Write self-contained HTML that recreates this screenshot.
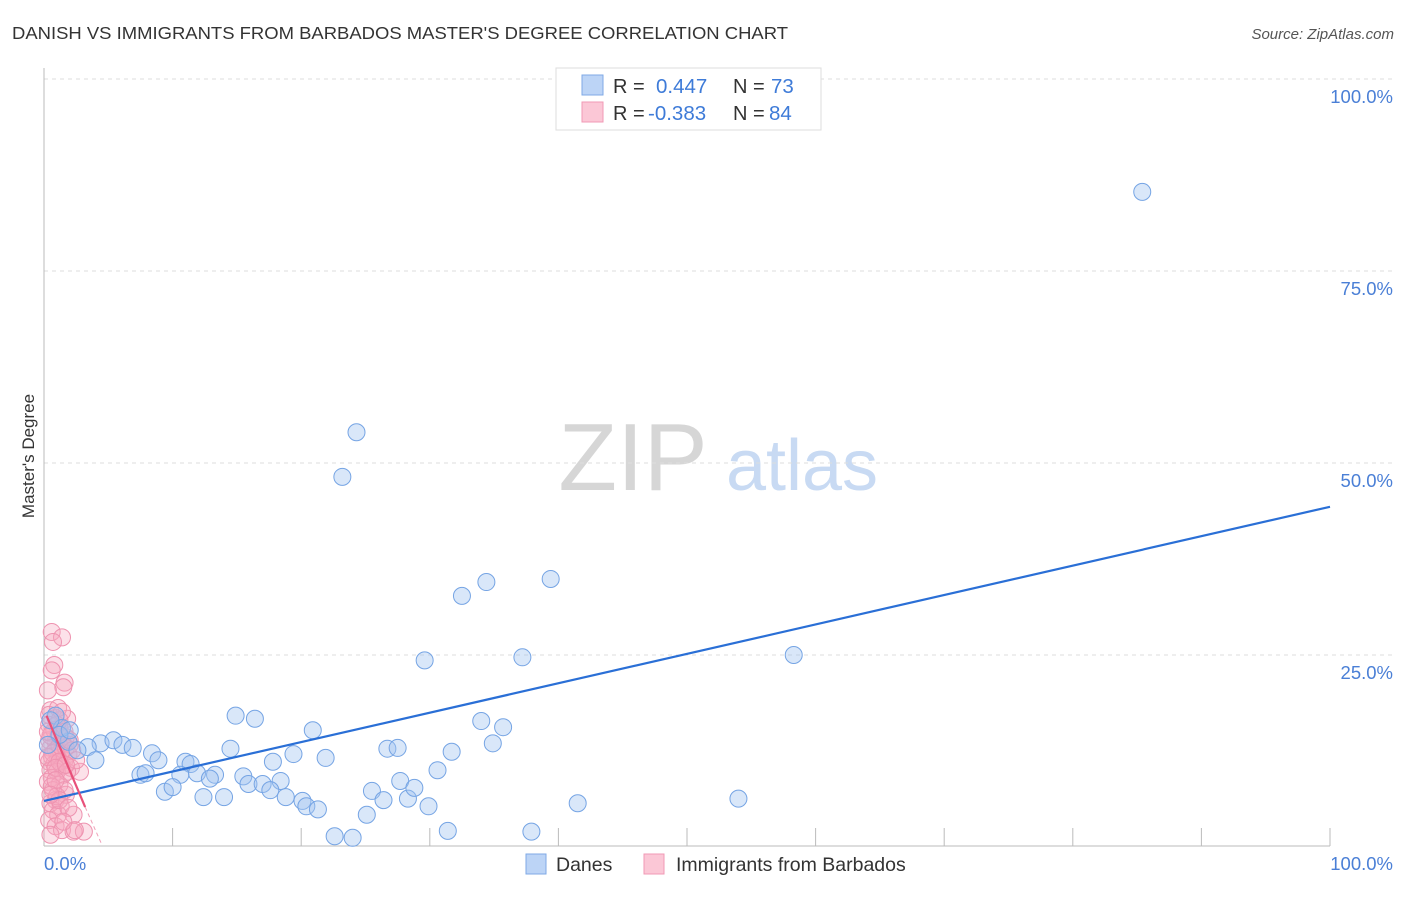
<!DOCTYPE html>
<html><head><meta charset="utf-8"><style>
body{margin:0;background:#fff;font-family:"Liberation Sans",sans-serif}
svg text{font-family:"Liberation Sans",sans-serif}
</style></head><body>
<svg id="chart" width="1406" height="892" viewBox="0 0 1406 892" xmlns="http://www.w3.org/2000/svg">
<text x="12" y="39" font-size="17.5" fill="#333" textLength="776" lengthAdjust="spacingAndGlyphs">DANISH VS IMMIGRANTS FROM BARBADOS MASTER'S DEGREE CORRELATION CHART</text>
<text x="1394" y="39" font-size="15" fill="#555" font-style="italic" text-anchor="end">Source: ZipAtlas.com</text>
<g>
<text x="633" y="490" font-size="96" fill="#d6d6d6" font-family="Liberation Serif,serif" text-anchor="middle">ZIP</text>
<text x="802" y="490" font-size="72" fill="#c8daf3" text-anchor="middle">atlas</text>
</g>
<g id="grid"></g>
<g id="axes"></g>
<g id="pink"></g>
<g id="blue"></g>
<g id="lines"></g>
<text transform="translate(34,456) rotate(-90)" font-size="17" fill="#333" text-anchor="middle">Master's Degree</text>
<g>
<rect x="556" y="68" width="265" height="62" fill="#fff" stroke="#ddd"/>
<rect x="582" y="75" width="21" height="20" fill="#bcd4f6" stroke="#7fa9e6"/>
<rect x="582" y="102" width="21" height="20" fill="#fbc7d6" stroke="#f09ab5"/>
<text x="613" y="93" font-size="20" fill="#333">R =</text>
<text x="656" y="93" font-size="20.5" fill="#3e7bd8">0.447</text>
<text x="733" y="93" font-size="20" fill="#333">N =</text>
<text x="771" y="93" font-size="20.5" fill="#3e7bd8">73</text>
<text x="613" y="120" font-size="20" fill="#333">R =</text>
<text x="648" y="120" font-size="20.5" fill="#3e7bd8">-0.383</text>
<text x="733" y="120" font-size="20" fill="#333">N =</text>
<text x="769" y="120" font-size="20.5" fill="#3e7bd8">84</text>
</g>
<g>
<rect x="526" y="854" width="20" height="20" fill="#bcd4f6" stroke="#7fa9e6"/>
<text x="556" y="871" font-size="19.5" fill="#333">Danes</text>
<rect x="644" y="854" width="20" height="20" fill="#fbc7d6" stroke="#f09ab5"/>
<text x="676" y="871" font-size="19.5" fill="#333">Immigrants from Barbados</text>
</g>
</svg>
<script>
const yTicks=[25,50,75,100];
const yTickLabels=["25.0%","50.0%","75.0%","100.0%"];
const xTicks=[10,20,30,40,50,60,70,80,90,100];
const blueX=[85.4,24.3,23.2,32.5,34.4,39.4,29.6,37.2,58.3,14.9,16.4,34.0,35.7,20.9,34.9,4.4,5.4,3.4,6.1,6.9,8.4,1.9,2.6,4.0,8.9,11.0,11.4,14.5,19.4,21.9,26.7,27.5,31.7,17.8,7.5,7.9,10.6,11.9,13.3,12.9,15.5,15.9,17.0,18.4,17.6,9.4,10.0,12.4,14.0,18.8,20.1,20.4,21.3,25.5,26.4,27.7,28.3,28.8,29.9,30.6,25.1,22.6,24.0,31.4,37.9,41.5,54.0,0.9,1.4,1.2,2.0,0.5,0.3];
const blueY=[85.3,54.0,48.2,32.7,34.5,34.9,24.3,24.7,25.0,17.1,16.7,16.4,15.6,15.2,13.5,13.5,13.9,13.0,13.3,12.9,12.2,13.7,12.6,11.3,11.3,11.1,10.8,12.8,12.1,11.6,12.8,12.9,12.4,11.1,9.4,9.6,9.4,9.6,9.4,8.9,9.2,8.2,8.2,8.6,7.4,7.2,7.8,6.5,6.5,6.5,6.0,5.3,4.9,7.3,6.1,8.6,6.3,7.7,5.3,10.0,4.2,1.4,1.2,2.1,2.0,5.7,6.3,17.1,15.5,14.6,15.2,16.5,13.3];
const pinkX=[0.6,1.4,0.7,0.8,0.6,1.6,1.5,0.3,0.5,0.4,0.9,1.8,0.4,1.2,0.6,1.1,1.7,0.4,0.9,1.5,2.0,0.5,0.9,1.3,1.9,0.6,1.1,1.6,0.4,0.8,1.4,2.1,2.8,0.5,1.0,1.5,0.6,0.3,1.2,0.7,1.7,0.9,0.5,1.3,0.7,1.1,2.3,0.4,0.9,1.4,2.3,3.1,0.5,2.4,1.2,1.0,0.8,1.6,0.5,1.2,1.7,0.7,0.3,1.2,0.9,1.8,0.6,1.6,1.0,2.2,2.5,0.3,1.1,1.4,2.0,1.7,0.9,1.2,1.9,0.5,1.5];
const pinkY=[28.0,27.3,26.7,23.7,23.0,21.4,20.8,20.4,17.8,17.2,16.8,16.7,15.9,15.5,14.8,14.6,14.3,13.9,13.7,13.4,13.3,12.9,12.6,12.4,12.1,11.8,11.6,11.3,11.1,10.8,10.5,10.3,9.8,10.0,9.8,9.4,9.0,8.5,8.1,7.4,6.8,6.1,5.7,5.3,4.8,4.2,4.2,3.5,2.7,2.2,2.0,2.0,1.6,2.2,16.5,15.9,15.2,15.0,14.5,13.2,12.9,12.2,11.7,11.1,10.3,9.8,7.9,7.4,6.6,12.6,11.3,15.0,18.1,17.6,13.9,10.7,8.7,6.1,5.1,6.8,3.3];
const blueTrend=[[0,6.0],[100,44.3]];
const pinkTrend=[[0.2,17.1],[3.2,5.2]];
const pinkTrendDash=[[3.2,5.2],[4.5,0.3]];
const NS="http://www.w3.org/2000/svg";
const xs=v=>44+v*12.86, ys=v=>847-v*7.68;
function mk(t,a,p){const e=document.createElementNS(NS,t);for(const k in a)e.setAttribute(k,a[k]);p.appendChild(e);return e;}
const grid=document.getElementById('grid'),axes=document.getElementById('axes');
yTicks.forEach((v,i)=>{
 const l=mk('line',{x1:44,x2:1392,y1:ys(v),y2:ys(v),stroke:'#ddd','stroke-dasharray':'4,4'},grid);
 
 
 const t=mk('text',{x:1393,y:ys(v)+24,'font-size':18.5,fill:'#4a7fd6','text-anchor':'end'},axes);
 t.textContent=yTickLabels[i];
 
 
});
const ax=mk('line',{x1:44,x2:1330,y1:846,y2:846,stroke:'#bbb'},axes);


const ay=mk('line',{x1:44,x2:44,y1:68,y2:846,stroke:'#bbb'},axes);


xTicks.forEach(v=>{
 const l=mk('line',{x1:xs(v),x2:xs(v),y1:828,y2:846,stroke:'#bbb'},axes);
 
 
});
const x0=mk('text',{x:44,y:870,'font-size':18.5,fill:'#4a7fd6'},axes);x0.textContent='0.0%';


const x1=mk('text',{x:1393,y:870,'font-size':18.5,fill:'#4a7fd6','text-anchor':'end'},axes);x1.textContent='100.0%';


const pg=document.getElementById('pink');
pinkX.forEach((v,i)=>{
 const c=mk('circle',{cx:xs(v),cy:ys(pinkY[i]),r:8.5,fill:'rgba(246,168,192,0.35)',stroke:'#ee93b0','stroke-width':1},pg);
 
 
});
const bg=document.getElementById('blue');
blueX.forEach((v,i)=>{
 const c=mk('circle',{cx:xs(v),cy:ys(blueY[i]),r:8.5,fill:'rgba(160,196,240,0.4)',stroke:'#75a4e4','stroke-width':1},bg);
 
 
});
const lg=document.getElementById('lines');
const bl=mk('line',{x1:xs(blueTrend[0][0]),y1:ys(blueTrend[0][1]),x2:xs(blueTrend[1][0]),y2:ys(blueTrend[1][1]),stroke:'#2a6fd6','stroke-width':2.2},lg);


const pl=mk('line',{x1:xs(pinkTrend[0][0]),y1:ys(pinkTrend[0][1]),x2:xs(pinkTrend[1][0]),y2:ys(pinkTrend[1][1]),stroke:'#e8507a','stroke-width':2.2},lg);


const pd=mk('line',{x1:xs(pinkTrendDash[0][0]),y1:ys(pinkTrendDash[0][1]),x2:xs(pinkTrendDash[1][0]),y2:ys(pinkTrendDash[1][1]),stroke:'#f0a0b8','stroke-width':1,'stroke-dasharray':'4,3'},lg);


</script>
</body></html>
